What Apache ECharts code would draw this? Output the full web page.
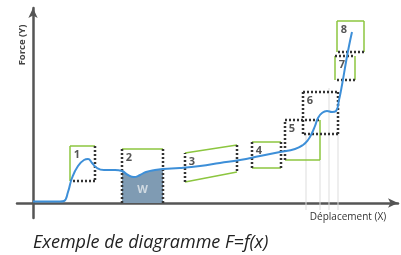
<!DOCTYPE html>
<html>
<head>
<meta charset="utf-8">
<script src="https://cdn.jsdelivr.net/npm/echarts@6/dist/echarts.min.js"></script>
<style>
html, body { margin: 0; padding: 0; background: #fff; }
#chart { width: 401px; height: 255px; }
</style>
</head>
<body>
<div id="chart"></div>
<script>
// courbe F = f(x), unités du repère (origine = croisement des axes)
var curveX = [0, 27, 31, 35, 39, 45, 51, 55, 59, 64, 71, 82, 89, 95, 101, 107, 113, 122, 130, 147, 167, 187, 207, 227, 247, 262, 270, 275, 279, 282, 285, 289, 294, 299, 303, 306, 309, 313, 316, 319];
var curveY = [1.5, 1.5, 2, 11, 25, 37, 43, 44, 40, 35, 33, 33, 32, 28, 26, 28, 31, 33, 34, 35, 37, 40, 43, 47, 51, 54, 58, 63, 70, 77, 85, 90, 92, 91, 92, 103, 118, 141, 157, 171];

// zone W : aire sous la courbe entre ces deux abscisses
var workFrom = 89, workTo = 130;

// boîtes numérotées : bords gauche/droit, haut et bas à chaque bord (la 3 est penchée)
var boxNames = ['1', '2', '3', '4', '5', '6', '7', '8'];
var boxLeft  = [37, 89, 152, 219, 252, 270, 302, 304];
var boxRight = [62, 130, 204, 248, 287, 305, 322, 331];
var boxTopL  = [57, 54, 50, 61, 83, 111, 147, 182];
var boxTopR  = [57, 54, 58, 61, 83, 111, 147, 182];
var boxBotL  = [22, 0, 21, 35, 43, 69, 123, 151];
var boxBotR  = [22, 0, 31, 35, 43, 69, 123, 151];

// repères verticaux fins près de la montée finale
var guideX = [273, 287, 296, 305];
var guideTop = [69, 43, 115, 69];
var guideBottom = -7;

var GREEN = '#8cc63f', DOT = '#333';
// côtés : haut, droite, bas, gauche — g = vert, d = pointillé, n = rien
var boxSides = ['gddg', 'gdnd', 'gdgd', 'gdgd', 'dggd', 'dddd', 'dgdg', 'ggdg'];

var curve = curveX.map(function(x, i) { return [x, curveY[i]]; });
var workArea = curve.filter(function(p) { return p[0] >= workFrom && p[0] <= workTo; });

function axisStyle(min, max) {
  return {
    type: 'value', min: min, max: max,
    axisLine: { onZero: true, symbol: ['none', 'arrow'], symbolSize: [7, 10], lineStyle: { color: '#555', width: 2.5 } },
    axisTick: { show: false }, axisLabel: { show: false }, splitLine: { show: false }
  };
}

function renderBox(params, api) {
  var i = api.value(6);
  var tl = api.coord([api.value(0), api.value(2)]);
  var tr = api.coord([api.value(1), api.value(3)]);
  var br = api.coord([api.value(1), api.value(5)]);
  var bl = api.coord([api.value(0), api.value(4)]);
  var edges = [[tl, tr], [tr, br], [br, bl], [bl, tl]];
  var greens = [], dots = [];
  edges.forEach(function(e, k) {
    var s = boxSides[i].charAt(k);
    if (s === 'n') return;
    var el = { type: 'line', shape: { x1: e[0][0], y1: e[0][1], x2: e[1][0], y2: e[1][1] } };
    if (s === 'g') { el.style = { stroke: GREEN, lineWidth: 1.5 }; greens.push(el); }
    else { el.style = { stroke: DOT, lineWidth: 2.5, lineDash: [2, 2] }; dots.push(el); }
  });
  var label = { type: 'text', x: tl[0] + 7, y: tl[1] + 9,
    style: { text: boxNames[i], fill: '#555', font: 'bold 11px "Open Sans"', align: 'center', verticalAlign: 'middle' } };
  return { type: 'group', children: greens.concat(dots, [label]) };
}

function renderGuide(params, api) {
  var a = api.coord([api.value(0), api.value(1)]);
  var b = api.coord([api.value(0), guideBottom]);
  return { type: 'line', shape: { x1: a[0], y1: a[1], x2: b[0], y2: b[1] }, style: { stroke: '#ddd', lineWidth: 1 } };
}

var chart = echarts.init(document.getElementById('chart'));
chart.setOption({
  animation: false,
  grid: { left: 17, right: 3, top: 8, bottom: 37 },
  xAxis: axisStyle(-16, 365),
  yAxis: axisStyle(-15, 195),
  graphic: [
    { type: 'text', x: 22, y: 45, rotation: Math.PI / 2,
      style: { text: 'Force (Y)', font: 'bold 9.5px "Open Sans"', fill: '#444', align: 'center', verticalAlign: 'middle' } },
    { type: 'text', x: 348, y: 217,
      style: { text: 'Déplacement (X)', font: '10px "Open Sans"', fill: '#333', align: 'center', verticalAlign: 'middle' } },
    { type: 'text', x: 33, y: 243,
      style: { text: 'Exemple de diagramme F=f(x)', font: 'italic 18px "Open Sans"', fill: '#222', align: 'left', verticalAlign: 'middle' } }
  ],
  series: [
    { type: 'line', data: workArea, smooth: true, showSymbol: false, silent: true,
      lineStyle: { width: 0 }, areaStyle: { color: '#7f9bb3', opacity: 1 }, z: 1 },
    { type: 'custom', renderItem: renderGuide, z: 2,
      data: guideX.map(function(x, i) { return [x, guideTop[i]]; }) },
    { type: 'custom', renderItem: renderBox, z: 3,
      data: boxNames.map(function(n, i) { return [boxLeft[i], boxRight[i], boxTopL[i], boxTopR[i], boxBotL[i], boxBotR[i], i]; }) },
    { type: 'line', data: curve, smooth: true, showSymbol: false,
      lineStyle: { color: '#3d8fd8', width: 2 }, z: 5 },
    { type: 'scatter', data: [[(workFrom + workTo) / 2, 13]], symbolSize: 0, z: 6,
      label: { show: true, position: 'inside', formatter: 'W', color: '#e4e8ec', fontSize: 11, fontWeight: 'bold', fontFamily: 'Open Sans' } }
  ]
});
</script>
</body>
</html>
